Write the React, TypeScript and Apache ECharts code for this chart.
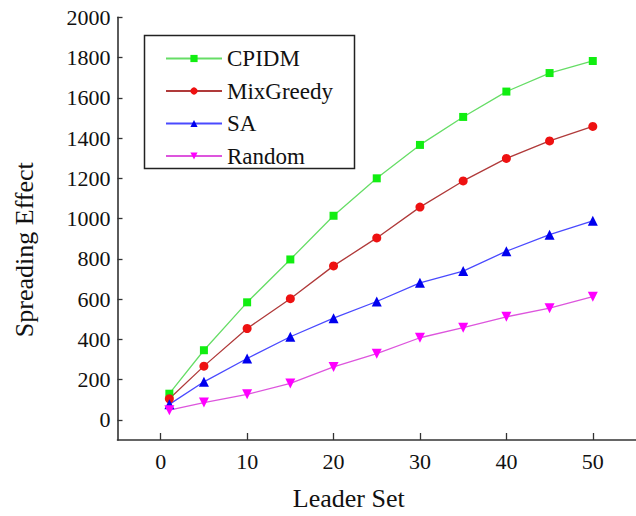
import React, { useEffect, useRef } from "react";
import * as echarts from "echarts";

const leaderSet = [1, 5, 10, 15, 20, 25, 30, 35, 40, 45, 50];
const cpidm = [130, 346, 584, 797, 1014, 1200, 1366, 1505, 1631, 1723, 1783];
const mixGreedy = [105, 267, 454, 602, 765, 904, 1057, 1187, 1299, 1386, 1458];
const sa = [77, 189, 305, 413, 505, 588, 681, 739, 838, 920, 989];
const random = [48, 86, 127, 181, 263, 329, 408, 458, 512, 555, 612];
const xTicks = [0, 10, 20, 30, 40, 50];
const yTicks = [0, 200, 400, 600, 800, 1000, 1200, 1400, 1600, 1800, 2000];

const FONT = "'Liberation Serif', 'Times New Roman', serif";

function pairs(ys: number[]) {
  return leaderSet.map((x, i) => [x, ys[i]]);
}

export default function App() {
  const ref = useRef<HTMLDivElement>(null);
  useEffect(() => {
    if (!ref.current) return;
    const chart = echarts.init(ref.current, undefined, { renderer: "svg" });
    const mk = (name: string, data: number[], symbol: string, size: number, lineColor: string, markColor: string, rotate = 0) => ({
      name,
      type: "line",
      data: pairs(data),
      symbol,
      symbolSize: size,
      symbolRotate: rotate,
      showAllSymbol: true,
      lineStyle: { color: lineColor, width: 1.3 },
      itemStyle: { color: markColor },
      emphasis: { disabled: true },
    });
    chart.setOption({
      animation: false,
      backgroundColor: "#ffffff",
      textStyle: { fontFamily: FONT },
      grid: { left: 117.5, right: -3.5, top: 17.3, bottom: 73.5, containLabel: false },
      legend: {
        orient: "vertical",
        left: 142,
        top: 33,
        padding: [14, 6, 2, 23],
        itemWidth: 56,
        itemHeight: 9,
        itemGap: 9.5,
        textStyle: { fontFamily: FONT, fontSize: 23, lineHeight: 22, color: "#111" },
        data: ["CPIDM", "MixGreedy", "SA", "Random"],
      },
      graphic: [
        {
          type: "rect",
          left: 142,
          top: 33,
          shape: { width: 210, height: 133 },
          style: { fill: "none", stroke: "#222", lineWidth: 1.5 },
          z: 10,
        },
      ],
      xAxis: {
        type: "value",
        min: -5,
        max: 55,
        name: "Leader Set",
        nameLocation: "middle",
        nameGap: 45,
        nameTextStyle: { fontFamily: FONT, fontSize: 26, color: "#111", padding: [0, 56, 0, 0] },
        axisLine: { show: true, onZero: false, lineStyle: { color: "#333", width: 1.6 } },
        axisTick: { show: true, inside: true, length: 7, customValues: xTicks, lineStyle: { color: "#333", width: 1.3 } },
        axisLabel: {
          customValues: xTicks,
          formatter: (v: number) => String(v),
          margin: 10,
          fontFamily: FONT,
          fontSize: 22,
          color: "#111",
        },
        splitLine: { show: false },
      },
      yAxis: {
        type: "value",
        min: -100,
        max: 2000,
        name: "Spreading Effect",
        nameLocation: "middle",
        nameGap: 80,
        nameTextStyle: { fontFamily: FONT, fontSize: 26, color: "#111", padding: [0, 42, 0, 0] },
        axisLine: { show: true, onZero: false, lineStyle: { color: "#333", width: 1.6 } },
        axisTick: { show: true, inside: true, length: 5, customValues: yTicks, lineStyle: { color: "#333", width: 1.3 } },
        axisLabel: {
          customValues: yTicks,
          formatter: (v: number) => String(v),
          margin: 7,
          fontFamily: FONT,
          fontSize: 22,
          color: "#111",
        },
        splitLine: { show: false },
      },
      series: [
        mk("CPIDM", cpidm, "rect", 8, "#66dd66", "#11ee11"),
        mk("MixGreedy", mixGreedy, "circle", 9, "#b03a3a", "#ee1111"),
        mk("SA", sa, "triangle", 10, "#4a4aff", "#0000ee"),
        mk("Random", random, "triangle", 10, "#dd55dd", "#ff00ff", 180),
      ],
    });
    return () => chart.dispose();
  }, []);
  return <div ref={ref} style={{ position: "fixed", left: 0, top: 0, width: 636, height: 516 }} />;
}
